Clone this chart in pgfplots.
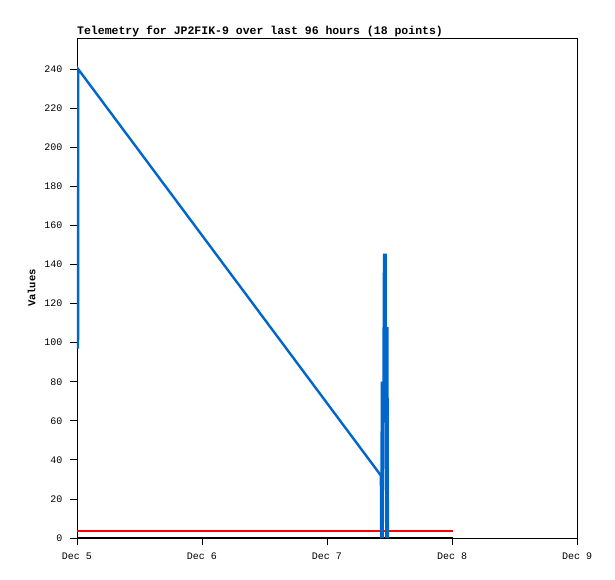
\documentclass[border=0pt]{standalone}
\usepackage{fontspec}
\setmainfont{Liberation Mono}
\setmonofont{Liberation Mono}
\usepackage{pgfplots}
\pgfplotsset{compat=1.18}
\definecolor{telblue}{HTML}{0066CC}

\begin{document}
\begin{tikzpicture}[x=1pt,y=1pt]
  \useasboundingbox (-77,-41) rectangle (538,538);
  \begin{axis}[
    at={(0,0)}, anchor=south west,
    width=500pt, height=500pt,
    scale only axis,
    xmin=0, xmax=96,
    ymin=0, ymax=256,
    xtick={0,24,48,72,96},
    xticklabels={Dec 5,Dec 6,Dec 7,Dec 8,Dec 9},
    ytick={0,20,...,240},
    tick align=outside,
    major tick length=7pt,
    xtick pos=bottom, ytick pos=left,
    tick style={black, line width=0.8pt},
    axis line style={line width=0.8pt},
    every axis plot/.append style={line join=miter},
    xticklabel style={font=\fontsize{10}{11}\selectfont, yshift=-4pt},
    yticklabel style={font=\fontsize{10}{11}\selectfont, xshift=-4pt},
    /pgf/number format/assume math mode=true,
    ylabel={Values},
    ylabel style={font=\bfseries\fontsize{10.5}{12}\selectfont, yshift=2pt},
    title={Telemetry for JP2FIK-9 over last 96 hours (18 points)},
    title style={at={(0,1)}, anchor=south west, inner sep=0pt, yshift=-5pt,
      font=\bfseries\fontsize{11.5}{12}\selectfont},
    clip=false,
  ]
    % battery/other series
    \addplot[black, line width=2pt] coordinates {(0,0) (72.2,0)};
    \addplot[red, line width=2pt] coordinates {(0,3.6) (72.2,3.6)};
    % main telemetry line
    \addplot[telblue, line width=2.4pt] coordinates {
      (0.2,97) (0.25,240) (58.35,32) (58.4,0) (58.55,80) (58.7,0)
      (58.95,145) (59.25,145) (59.3,72) (59.4,0) (59.6,108)
      (59.65,36) (59.7,0)
    };
  \end{axis}
\end{tikzpicture}
\end{document}
